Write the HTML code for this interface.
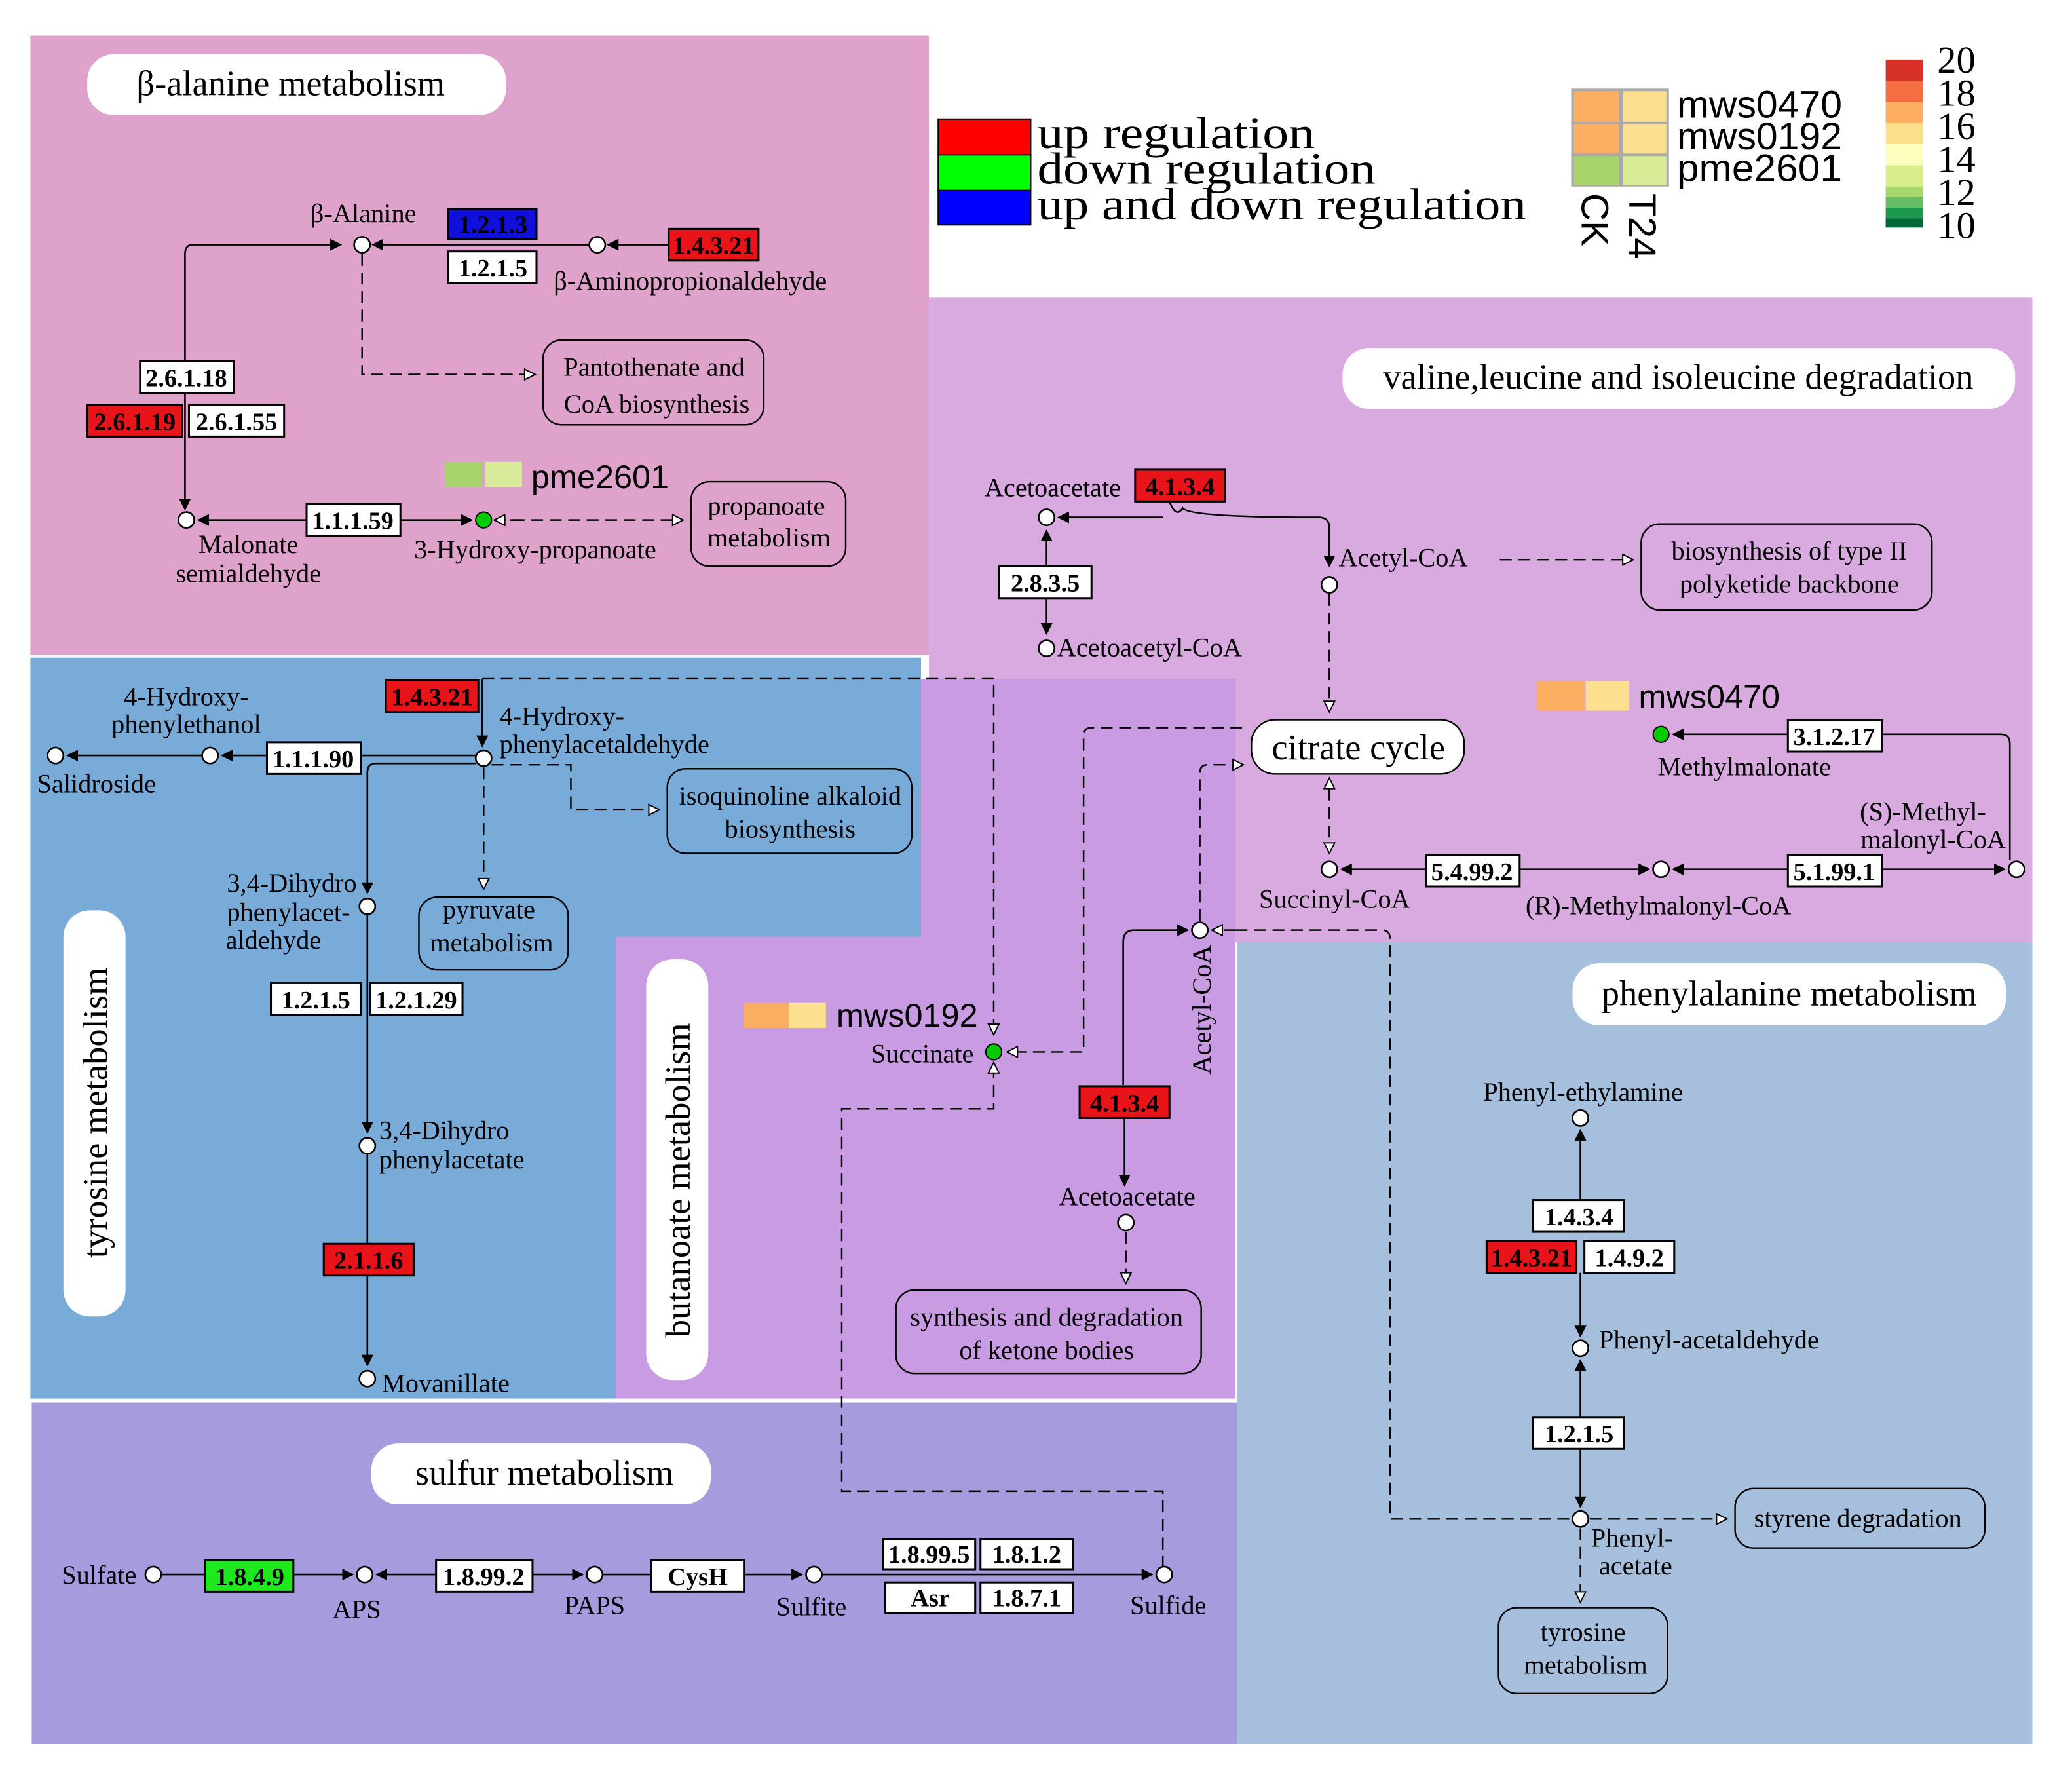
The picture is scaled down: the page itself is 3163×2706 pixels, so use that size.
<!DOCTYPE html>
<html><head><meta charset="utf-8"><style>
html,body{margin:0;padding:0;background:#fff;}
svg{display:block;}
text{font-family:"Liberation Serif",serif;fill:#000;}
.s{font-family:"Liberation Sans",sans-serif;}
.e{font-size:19px;font-weight:bold;text-anchor:middle;}
.l{font-size:20px;}
.t{font-size:27px;text-anchor:middle;}
</style></head><body>
<svg width="3163" height="2706" viewBox="0 0 1568 1340" preserveAspectRatio="none" xmlns="http://www.w3.org/2000/svg">
<defs>
<marker id="a" viewBox="0 0 10 10" refX="9" refY="5" markerWidth="9" markerHeight="9" orient="auto" markerUnits="userSpaceOnUse"><path d="M0,0L10,5L0,10z" fill="#000"/></marker>
<marker id="o" viewBox="0 0 10 10" refX="9" refY="5" markerWidth="10" markerHeight="10" orient="auto" markerUnits="userSpaceOnUse"><path d="M1,1L9,5L1,9z" fill="#fff" stroke="#000" stroke-width="1"/></marker>
</defs>
<style>
.ln{stroke:#000;stroke-width:1.3;fill:none;}
.d{stroke:#000;stroke-width:1.2;fill:none;stroke-dasharray:9,5;}
.n{fill:#fff;stroke:#000;stroke-width:1.3;}
.bx{fill:#fff;stroke:#000;stroke-width:1.5;}
.r{fill:#e8141a;stroke:#000;stroke-width:1.5;}
.rb{fill:none;stroke:#000;stroke-width:1.2;}
</style>
<!-- regions -->
<rect x="23" y="27" width="680" height="468" fill="#dfa3cb"/>
<rect x="703" y="225" width="835" height="487" fill="#d9aadf"/>
<rect x="23" y="497" width="674" height="560" fill="#79abd9"/>
<path d="M697,513H935V1057H466V708H697z" fill="#c99be2"/>
<rect x="24" y="1060" width="912" height="258" fill="#a59bdd"/>
<rect x="936" y="712" width="602" height="606" fill="#a6bfdc"/>

<!-- legend -->
<rect x="710" y="90" width="70" height="27" fill="#f00" stroke="#000"/>
<rect x="710" y="117" width="70" height="27" fill="#0f0" stroke="#000"/>
<rect x="710" y="144" width="70" height="26" fill="#00f" stroke="#000"/>
<text x="785" y="112" font-size="34" textLength="210" lengthAdjust="spacingAndGlyphs">up regulation</text>
<text x="785" y="139" font-size="34" textLength="256" lengthAdjust="spacingAndGlyphs">down regulation</text>
<text x="785" y="166" font-size="34" textLength="370" lengthAdjust="spacingAndGlyphs">up and down regulation</text>
<rect x="1189" y="67" width="74" height="74" fill="#aaa"/>
<rect x="1191" y="69" width="34" height="23" fill="#fbae62"/><rect x="1228" y="69" width="33" height="23" fill="#fde08f"/>
<rect x="1191" y="94" width="34" height="22" fill="#fbae62"/><rect x="1228" y="94" width="33" height="22" fill="#fde08f"/>
<rect x="1191" y="118" width="34" height="22" fill="#a7d46c"/><rect x="1228" y="118" width="33" height="22" fill="#d9ec96"/>
<text class="s" x="1269" y="89" font-size="29" textLength="125" lengthAdjust="spacingAndGlyphs">mws0470</text>
<text class="s" x="1269" y="113" font-size="29" textLength="125" lengthAdjust="spacingAndGlyphs">mws0192</text>
<text class="s" x="1269" y="137" font-size="29" textLength="125" lengthAdjust="spacingAndGlyphs">pme2601</text>
<text class="s" font-size="29" transform="translate(1197,146) rotate(90)">CK</text>
<text class="s" font-size="29" transform="translate(1233,146) rotate(90)">T24</text>
<rect x="1427" y="45" width="28" height="16" fill="#d73027"/>
<rect x="1427" y="61" width="28" height="16" fill="#f46d43"/>
<rect x="1427" y="77" width="28" height="16" fill="#fdae61"/>
<rect x="1427" y="93" width="28" height="16" fill="#fee08b"/>
<rect x="1427" y="109" width="28" height="16" fill="#ffffbf"/>
<rect x="1427" y="125" width="28" height="16" fill="#d9ef8b"/>
<rect x="1427" y="141" width="28" height="8" fill="#a6d96a"/>
<rect x="1427" y="149" width="28" height="8" fill="#66bd63"/>
<rect x="1427" y="157" width="28" height="8" fill="#1a9850"/>
<rect x="1427" y="165" width="28" height="7" fill="#006837"/>
<g class="s" font-size="29"><text x="1466" y="55">20</text><text x="1466" y="80">18</text><text x="1466" y="105">16</text><text x="1466" y="130">14</text><text x="1466" y="155">12</text><text x="1466" y="180">10</text></g>

<!-- beta-alanine -->
<rect x="66" y="41" width="317" height="46" rx="20" fill="#fff"/>
<text class="t" x="220" y="72">β-alanine metabolism</text>
<text class="l" x="275" y="168" text-anchor="middle">β-Alanine</text>
<line class="ln" x1="446" y1="185" x2="282" y2="185" marker-end="url(#a)"/>
<line class="ln" x1="506" y1="185" x2="460" y2="185" marker-end="url(#a)"/>
<path class="ln" d="M258,185H146Q140,185 140,192V385" marker-end="url(#a)"/>
<path class="ln" d="M248,185H258" marker-end="url(#a)"/>
<circle class="n" cx="274" cy="185" r="6"/><circle class="n" cx="452" cy="185" r="6"/>
<rect x="339" y="158" width="67" height="23" fill="#1010d8" stroke="#000" stroke-width="1.5"/><text class="e" x="373" y="176">1.2.1.3</text>
<rect class="bx" x="339" y="190" width="67" height="24"/><text class="e" x="373" y="209">1.2.1.5</text>
<rect class="r" x="506" y="173" width="68" height="24"/><text class="e" x="540" y="192">1.4.3.21</text>
<text class="l" x="419" y="219">β-Aminopropionaldehyde</text>
<path class="d" d="M274,192V283H405" marker-end="url(#o)"/>
<rect class="rb" x="411" y="257" width="167" height="64" rx="14"/>
<text class="l" x="495" y="284" text-anchor="middle">Pantothenate and</text><text class="l" x="497" y="312" text-anchor="middle">CoA biosynthesis</text>
<rect class="bx" x="106" y="273" width="71" height="24"/><text class="e" x="141" y="292">2.6.1.18</text>
<rect class="r" x="66" y="306" width="72" height="24"/><text class="e" x="102" y="325">2.6.1.19</text>
<rect class="bx" x="143" y="306" width="72" height="24"/><text class="e" x="179" y="325">2.6.1.55</text>
<line class="ln" x1="232" y1="393" x2="150" y2="393" marker-end="url(#a)"/>
<line class="ln" x1="303" y1="393" x2="357" y2="393" marker-end="url(#a)"/>
<circle class="n" cx="141" cy="393" r="6"/>
<rect class="bx" x="232" y="381" width="71" height="24"/><text class="e" x="267" y="400">1.1.1.59</text>
<line class="d" x1="374" y1="393" x2="517" y2="393" marker-end="url(#o)"/>
<line class="d" x1="395" y1="393" x2="374" y2="393" marker-end="url(#o)"/>
<circle cx="366" cy="393" r="6" fill="#0c0" stroke="#000"/>
<rect class="rb" x="523" y="364" width="117" height="64" rx="14"/>
<text class="l" x="580" y="389" text-anchor="middle">propanoate</text><text class="l" x="582" y="413" text-anchor="middle">metabolism</text>
<rect x="337" y="349" width="28" height="19" fill="#a6d36a"/><rect x="367" y="349" width="28" height="19" fill="#d9eb9a"/>
<text class="s" x="402" y="369" font-size="25">pme2601</text>
<text class="l" x="188" y="418" text-anchor="middle">Malonate</text><text class="l" x="188" y="440" text-anchor="middle">semialdehyde</text>
<text class="l" x="405" y="422" text-anchor="middle">3-Hydroxy-propanoate</text>

<!-- valine -->
<rect x="1016" y="263" width="509" height="46" rx="20" fill="#fff"/>
<text class="t" x="1270" y="294">valine,leucine and isoleucine degradation</text>
<text class="l" x="745" y="375">Acetoacetate</text>
<rect class="r" x="859" y="355" width="68" height="24"/><text class="e" x="893" y="374">4.1.3.4</text>
<path class="ln" d="M885,379Q890,392 895,384Q900,391 998,391Q1006,391 1006,399V428" marker-end="url(#a)"/>
<line class="ln" x1="880" y1="391" x2="801" y2="391" marker-end="url(#a)"/>
<circle class="n" cx="792" cy="391" r="6"/>
<line class="ln" x1="792" y1="428" x2="792" y2="401" marker-end="url(#a)"/>
<line class="ln" x1="792" y1="452" x2="792" y2="479" marker-end="url(#a)"/>
<rect class="bx" x="756" y="428" width="70" height="24"/><text class="e" x="791" y="447">2.8.3.5</text>
<circle class="n" cx="792" cy="490" r="6"/><text class="l" x="800" y="496">Acetoacetyl-CoA</text>
<text class="l" x="1013" y="428">Acetyl-CoA</text>
<circle class="n" cx="1006" cy="442" r="6"/>
<line class="d" x1="1135" y1="423" x2="1236" y2="423" marker-end="url(#o)"/>
<rect class="rb" x="1242" y="396" width="220" height="65" rx="14"/>
<text class="l" x="1354" y="423" text-anchor="middle">biosynthesis of type II</text><text class="l" x="1354" y="448" text-anchor="middle">polyketide backbone</text>
<line class="d" x1="1006" y1="449" x2="1006" y2="538" marker-end="url(#o)"/>
<rect x="947" y="544" width="161" height="41" rx="18" fill="#fff" stroke="#000" stroke-width="1.2"/>
<text x="1028" y="574" font-size="27" text-anchor="middle">citrate cycle</text>
<rect x="1163" y="515" width="36" height="22" fill="#fbae62"/><rect x="1200" y="515" width="33" height="22" fill="#fde08f"/>
<text class="s" x="1240" y="535" font-size="25">mws0470</text>
<path class="ln" d="M1521,650V562Q1521,555 1514,555H1424"/>
<line class="ln" x1="1353" y1="555" x2="1266" y2="555" marker-end="url(#a)"/>
<circle cx="1257" cy="555" r="6" fill="#0c0" stroke="#000"/>
<rect class="bx" x="1353" y="544" width="71" height="24"/><text class="e" x="1388" y="563">3.1.2.17</text>
<text class="l" x="1320" y="586" text-anchor="middle">Methylmalonate</text>
<text class="l" x="1503" y="620" text-anchor="end">(S)-Methyl-</text><text class="l" x="1518" y="641" text-anchor="end">malonyl-CoA</text>
<line class="d" x1="1006" y1="600" x2="1006" y2="588" marker-end="url(#o)"/>
<line class="d" x1="1006" y1="596" x2="1006" y2="645" marker-end="url(#o)"/>
<circle class="n" cx="1006" cy="657" r="6"/>
<line class="ln" x1="1079" y1="657" x2="1015" y2="657" marker-end="url(#a)"/>
<line class="ln" x1="1150" y1="657" x2="1248" y2="657" marker-end="url(#a)"/>
<rect class="bx" x="1079" y="646" width="71" height="24"/><text class="e" x="1114" y="665">5.4.99.2</text>
<circle class="n" cx="1257" cy="657" r="6"/>
<line class="ln" x1="1353" y1="657" x2="1266" y2="657" marker-end="url(#a)"/>
<line class="ln" x1="1424" y1="657" x2="1517" y2="657" marker-end="url(#a)"/>
<rect class="bx" x="1353" y="646" width="71" height="24"/><text class="e" x="1388" y="665">5.1.99.1</text>
<circle class="n" cx="1526" cy="657" r="6"/>
<text class="l" x="1010" y="686" text-anchor="middle">Succinyl-CoA</text>
<text class="l" x="1255" y="691" text-anchor="middle">(R)-Methylmalonyl-CoA</text>

<!-- tyrosine -->
<rect x="48" y="688" width="47" height="307" rx="20" fill="#fff"/>
<text class="t" transform="translate(81,841) rotate(-90)">tyrosine metabolism</text>
<rect class="r" x="292" y="514" width="70" height="24"/><text class="e" x="327" y="533">1.4.3.21</text>
<path class="ln" d="M365,513V564" marker-end="url(#a)"/>
<path class="d" d="M365,513H752V782" marker-end="url(#o)"/>
<circle class="n" cx="366" cy="573" r="6"/>
<text class="l" x="378" y="548">4-Hydroxy-</text><text class="l" x="378" y="569">phenylacetaldehyde</text>
<line class="ln" x1="360" y1="571" x2="273" y2="571"/>
<line class="ln" x1="202" y1="571" x2="168" y2="571" marker-end="url(#a)"/>
<rect class="bx" x="202" y="561" width="71" height="24"/><text class="e" x="237" y="580">1.1.1.90</text>
<circle class="n" cx="159" cy="571" r="6"/>
<line class="ln" x1="153" y1="571" x2="51" y2="571" marker-end="url(#a)"/>
<circle class="n" cx="42" cy="571" r="6"/>
<text class="l" x="141" y="533" text-anchor="middle">4-Hydroxy-</text><text class="l" x="141" y="554" text-anchor="middle">phenylethanol</text>
<text class="l" x="73" y="599" text-anchor="middle">Salidroside</text>
<path class="d" d="M372,578H432V612H499" marker-end="url(#o)"/>
<rect class="rb" x="505" y="581" width="185" height="64" rx="14"/>
<text class="l" x="598" y="608" text-anchor="middle">isoquinoline alkaloid</text><text class="l" x="598" y="633" text-anchor="middle">biosynthesis</text>
<line class="d" x1="366" y1="580" x2="366" y2="672" marker-end="url(#o)"/>
<rect class="rb" x="317" y="678" width="113" height="55" rx="14"/>
<text class="l" x="370" y="694" text-anchor="middle">pyruvate</text><text class="l" x="372" y="719" text-anchor="middle">metabolism</text>
<path class="ln" d="M360,577H284Q278,577 278,584V675" marker-end="url(#a)"/>
<circle class="n" cx="278" cy="685" r="6"/>
<text class="l" x="270" y="674" text-anchor="end">3,4-Dihydro</text><text class="l" x="265" y="696" text-anchor="end">phenylacet-</text><text class="l" x="243" y="717" text-anchor="end">aldehyde</text>
<line class="ln" x1="278" y1="691" x2="278" y2="856" marker-end="url(#a)"/>
<rect class="bx" x="205" y="743" width="68" height="24"/><text class="e" x="239" y="762">1.2.1.5</text>
<rect class="bx" x="280" y="743" width="70" height="24"/><text class="e" x="315" y="762">1.2.1.29</text>
<circle class="n" cx="278" cy="866" r="6"/>
<text class="l" x="287" y="861">3,4-Dihydro</text><text class="l" x="287" y="883">phenylacetate</text>
<line class="ln" x1="278" y1="872" x2="278" y2="1032" marker-end="url(#a)"/>
<rect class="r" x="245" y="940" width="68" height="24"/><text class="e" x="279" y="959">2.1.1.6</text>
<circle class="n" cx="278" cy="1042" r="6"/><text class="l" x="289" y="1052">Movanillate</text>

<!-- butanoate -->
<rect x="489" y="725" width="47" height="318" rx="20" fill="#fff"/>
<text class="t" transform="translate(522,892) rotate(-90)">butanoate metabolism</text>
<rect x="563" y="758" width="34" height="19" fill="#fbae62"/><rect x="597" y="758" width="28" height="19" fill="#fde08f"/>
<text class="s" x="633" y="776" font-size="25">mws0192</text>
<text class="l" x="698" y="803" text-anchor="middle">Succinate</text>
<path class="d" d="M940,550H826Q820,550 820,556V795H762" marker-end="url(#o)"/>
<circle cx="752" cy="795" r="6" fill="#0c0" stroke="#000"/>
<path class="d" d="M880,1185V1127H637V838H752V803" marker-end="url(#o)"/>
<text class="l" transform="translate(916,812) rotate(-90)">Acetyl-CoA</text>
<circle class="n" cx="908" cy="703" r="6"/>
<path class="d" d="M908,696V584Q908,578 914,578H941" marker-end="url(#o)"/>
<path class="d" d="M935,703H917" marker-end="url(#o)"/>
<path class="d" d="M935,703H1046Q1052,703 1052,710V1148H1188"/>
<path class="ln" d="M850,820V712Q850,703 858,703H899" marker-end="url(#a)"/>
<rect class="r" x="817" y="821" width="68" height="24"/><text class="e" x="851" y="840">4.1.3.4</text>
<line class="ln" x1="851" y1="845" x2="851" y2="896" marker-end="url(#a)"/>
<text class="l" x="853" y="911" text-anchor="middle">Acetoacetate</text>
<circle class="n" cx="852" cy="924" r="6"/>
<line class="d" x1="852" y1="931" x2="852" y2="970" marker-end="url(#o)"/>
<rect class="rb" x="678" y="975" width="231" height="63" rx="14"/>
<text class="l" x="792" y="1002" text-anchor="middle">synthesis and degradation</text><text class="l" x="792" y="1027" text-anchor="middle">of ketone bodies</text>

<!-- sulfur -->
<rect x="281" y="1091" width="257" height="46" rx="20" fill="#fff"/>
<text class="t" x="412" y="1122">sulfur metabolism</text>
<text class="l" x="75" y="1197" text-anchor="middle">Sulfate</text>
<circle class="n" cx="116" cy="1190" r="6"/>
<line class="ln" x1="122" y1="1190" x2="155" y2="1190"/>
<rect x="155" y="1179" width="67" height="24" fill="#1ee81e" stroke="#000" stroke-width="1.5"/><text class="e" x="189" y="1198">1.8.4.9</text>
<line class="ln" x1="222" y1="1190" x2="267" y2="1190" marker-end="url(#a)"/>
<circle class="n" cx="276" cy="1190" r="6"/>
<line class="ln" x1="330" y1="1190" x2="285" y2="1190" marker-end="url(#a)"/>
<rect class="bx" x="330" y="1179" width="73" height="24"/><text class="e" x="366" y="1198">1.8.99.2</text>
<line class="ln" x1="403" y1="1190" x2="441" y2="1190" marker-end="url(#a)"/>
<circle class="n" cx="450" cy="1190" r="6"/>
<line class="ln" x1="456" y1="1190" x2="493" y2="1190"/>
<rect class="bx" x="493" y="1179" width="70" height="24"/><text class="e" x="528" y="1198">CysH</text>
<line class="ln" x1="563" y1="1190" x2="607" y2="1190" marker-end="url(#a)"/>
<circle class="n" cx="616" cy="1190" r="6"/>
<line class="ln" x1="622" y1="1190" x2="872" y2="1190" marker-end="url(#a)"/>
<rect class="bx" x="668" y="1163" width="70" height="23"/><text class="e" x="703" y="1181">1.8.99.5</text>
<rect class="bx" x="742" y="1163" width="70" height="23"/><text class="e" x="777" y="1181">1.8.1.2</text>
<rect class="bx" x="670" y="1196" width="68" height="23"/><text class="e" x="704" y="1214">Asr</text>
<rect class="bx" x="742" y="1196" width="70" height="23"/><text class="e" x="777" y="1214">1.8.7.1</text>
<circle class="n" cx="881" cy="1190" r="6"/>
<text class="l" x="270" y="1223" text-anchor="middle">APS</text>
<text class="l" x="450" y="1220" text-anchor="middle">PAPS</text>
<text class="l" x="614" y="1221" text-anchor="middle">Sulfite</text>
<text class="l" x="884" y="1220" text-anchor="middle">Sulfide</text>

<!-- phenylalanine -->
<rect x="1190" y="728" width="328" height="47" rx="20" fill="#fff"/>
<text class="t" x="1354" y="760">phenylalanine metabolism</text>
<text class="l" x="1198" y="832" text-anchor="middle">Phenyl-ethylamine</text>
<circle class="n" cx="1196" cy="845" r="6"/>
<line class="ln" x1="1196" y1="907" x2="1196" y2="854" marker-end="url(#a)"/>
<rect class="bx" x="1160" y="907" width="69" height="24"/><text class="e" x="1195" y="926">1.4.3.4</text>
<rect class="r" x="1125" y="938" width="68" height="24"/><text class="e" x="1159" y="957">1.4.3.21</text>
<rect class="bx" x="1199" y="938" width="68" height="24"/><text class="e" x="1233" y="957">1.4.9.2</text>
<line class="ln" x1="1196" y1="962" x2="1196" y2="1010" marker-end="url(#a)"/>
<circle class="n" cx="1196" cy="1019" r="6"/>
<text class="l" x="1210" y="1019">Phenyl-acetaldehyde</text>
<line class="ln" x1="1196" y1="1071" x2="1196" y2="1028" marker-end="url(#a)"/>
<rect class="bx" x="1160" y="1071" width="69" height="24"/><text class="e" x="1195" y="1090">1.2.1.5</text>
<line class="ln" x1="1196" y1="1095" x2="1196" y2="1139" marker-end="url(#a)"/>
<circle class="n" cx="1196" cy="1148" r="6"/>
<text class="l" x="1204" y="1169">Phenyl-</text><text class="l" x="1210" y="1190">acetate</text>
<line class="d" x1="1203" y1="1148" x2="1307" y2="1148" marker-end="url(#o)"/>
<rect class="rb" x="1313" y="1125" width="189" height="45" rx="14"/>
<text class="l" x="1406" y="1154" text-anchor="middle">styrene degradation</text>
<line class="d" x1="1196" y1="1155" x2="1196" y2="1211" marker-end="url(#o)"/>
<rect class="rb" x="1134" y="1215" width="128" height="65" rx="14"/>
<text class="l" x="1198" y="1240" text-anchor="middle">tyrosine</text><text class="l" x="1200" y="1265" text-anchor="middle">metabolism</text>
</svg>
</body></html>
